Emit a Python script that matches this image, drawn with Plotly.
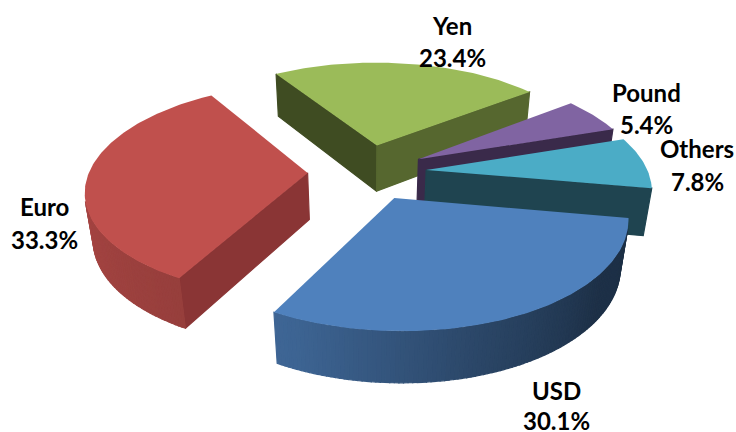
import numpy as np
import plotly.graph_objects as go

# Currency shares, clockwise from the first slice
currencies = ["USD", "Euro", "Yen", "Pound", "Others"]
shares = [30.1, 33.3, 23.4, 5.4, 7.8]

top_colors = ["#4F81BD", "#C0504D", "#9BBB59", "#8064A2", "#4BACC6"]
# Flat side walls: colour of the wall at the start and at the end of each slice
start_wall = ["#1D3047", "#8A3535", "#3F4C22", "#3A2A4A", "#1F4450"]
end_wall = ["#3F6797", "#8A3535", "#56672F", "#3A2A4A", "#1F4450"]
draw_order = [2, 3, 4, 0, 1]

label_x = [556, 44, 452, 646, 697]
name_y = [390, 206, 25, 92, 148]
value_y = [420, 239, 57, 124, 181]

# Camera and pie geometry
FIRST_ANGLE = 101.7
EXPLODE = 0.27
CX, CY = 367.0, 172.0
SCALE = 220.0
TILT = 0.47
PERSPECTIVE = 0.155
SHEAR = -8.0
ROLL = 0.015
DEPTH = 48.0
DEPTH_FALLOFF = 0.03


def project(u, v, z=0.0):
    """Map a pie-plane point (z=1 is the underside) to page pixels."""
    w = 1 + PERSPECTIVE * v + DEPTH_FALLOFF * z
    x = CX + (SCALE * u + SHEAR * v) / w
    y = CY - SCALE * TILT * v / w + DEPTH * z / w - ROLL * (x - CX)
    return x, y


def polar(angle):
    a = np.radians(angle)
    return np.sin(a), np.cos(a)


def hex_shade(color, factor):
    rgb = [int(color[i:i + 2], 16) for i in (1, 3, 5)]
    return "rgb({},{},{})".format(*[int(c * factor) for c in rgb])


def rim_shade(angle):
    # Outer wall lightens from the right side towards the left of the pie
    return np.interp(angle % 360, [100, 130, 165, 205, 270], [0.37, 0.38, 0.55, 0.78, 0.88])


def faces_viewer(a, b, below, inside):
    ex, ey = b[0] - a[0], b[1] - a[1]
    c1 = ex * (below[1] - a[1]) - ey * (below[0] - a[0])
    c2 = ex * (inside[1] - a[1]) - ey * (inside[0] - a[0])
    return c1 * c2 < 0


def add_poly(fig, pts, color, outline=True):
    fig.add_trace(go.Scatter(
        x=[p[0] for p in pts] + [pts[0][0]],
        y=[p[1] for p in pts] + [pts[0][1]],
        mode="lines",
        fill="toself",
        fillcolor=color,
        line=dict(color=color, width=1.2 if outline else 0),
        hoverinfo="skip",
        showlegend=False,
    ))


fig = go.Figure()

bounds = FIRST_ANGLE + np.cumsum([0] + [s * 3.6 for s in shares])
for i in draw_order:
    start, end = bounds[i], bounds[i + 1]
    ou, ov = polar((start + end) / 2)
    ou, ov = ou * EXPLODE, ov * EXPLODE
    apex = project(ou, ov)
    apex_low = project(ou, ov, 1)
    angles = np.linspace(start, end, max(int(end - start), 8) + 1)
    rim = [(ou + polar(t)[0], ov + polar(t)[1]) for t in angles]
    top = [project(*p) for p in rim]
    low = [project(*p, 1) for p in rim]
    mid = top[len(top) // 2]

    # Flat cut faces
    for edge, edge_low, wall in ((top[0], low[0], start_wall[i]), (top[-1], low[-1], end_wall[i])):
        if faces_viewer(apex, edge, apex_low, mid):
            add_poly(fig, [apex, edge, edge_low, apex_low], wall)

    # Curved outer wall, one strip per arc step
    for k in range(len(angles) - 1):
        if faces_viewer(top[k], top[k + 1], low[k], apex):
            shade = rim_shade((angles[k] + angles[k + 1]) / 2)
            add_poly(fig, [top[k], top[k + 1], low[k + 1], low[k]], hex_shade(top_colors[i], shade))

    add_poly(fig, [apex] + top, top_colors[i], outline=False)

font = dict(family="Lato, Carlito, sans-serif", size=24, color="#000000")
for name, share, x, y1, y2 in zip(currencies, shares, label_x, name_y, value_y):
    for text, y in ((f"<b>{name}</b>", y1), (f"<b>{share}%</b>", y2)):
        fig.add_annotation(x=x, y=y, text=text, showarrow=False, font=font,
                           xanchor="center", yanchor="middle")

fig.update_layout(
    width=736,
    height=432,
    margin=dict(l=0, r=0, t=0, b=0),
    paper_bgcolor="#FFFFFF",
    plot_bgcolor="#FFFFFF",
    showlegend=False,
    xaxis=dict(range=[0, 736], visible=False, fixedrange=True),
    yaxis=dict(range=[432, 0], visible=False, fixedrange=True),
)

fig.write_html("out.html", config={"displayModeBar": False})
